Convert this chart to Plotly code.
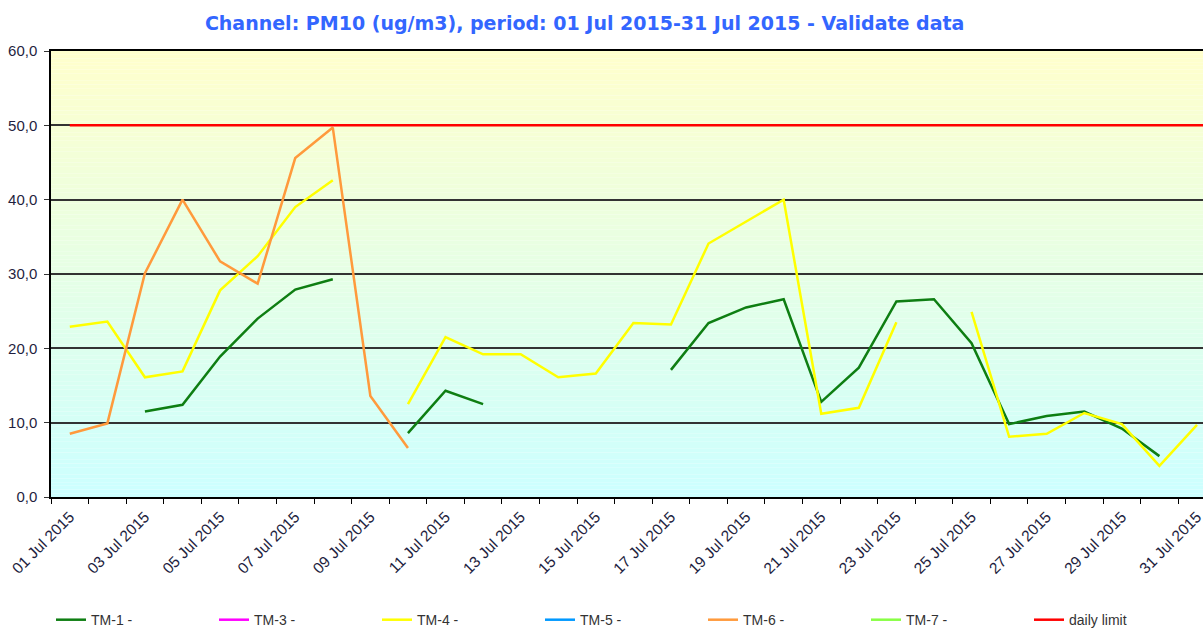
import plotly.graph_objects as go

# ---- data ----
days = list(range(1, 32))
x_labels_days = list(range(1, 32, 2))
x_labels = ["%02d Jul 2015" % d for d in x_labels_days]

tm1 = [None, None, 11.5, 12.4, 18.9, 24.0, 27.9, 29.3, None, 8.6,
       14.3, 12.5, None, None, None, None, 17.1, 23.4, 25.5, 26.6,
       12.8, 17.4, 26.3, 26.6, 20.7, 9.8, 10.9, 11.5, 9.2, 5.5, None]
tm3 = [None] * 31
tm4 = [22.9, 23.6, 16.1, 16.9, 27.8, 32.4, 39.0, 42.6, None, 12.5,
       21.5, 19.2, 19.2, 16.1, 16.6, 23.4, 23.2, 34.1, 37.0, 40.0,
       11.2, 12.0, 23.5, None, 24.9, 8.1, 8.5, 11.3, 9.8, 4.2, 9.7]
tm5 = [None] * 31
tm6 = [8.5, 9.9, 30.1, 40.0, 31.7, 28.7, 45.6, 49.7, 13.6, 6.6] + [None] * 21
tm7 = [None] * 31
daily_limit = [50.0] * 31

y_ticks = [0, 10, 20, 30, 40, 50, 60]
y_tick_labels = ["0,0", "10,0", "20,0", "30,0", "40,0", "50,0", "60,0"]

series = [
    ("TM-1 -", tm1, "#0E7E12"),
    ("TM-3 -", tm3, "#FF00FF"),
    ("TM-4 -", tm4, "#FFFF00"),
    ("TM-5 -", tm5, "#0099FF"),
    ("TM-6 -", tm6, "#FF9A3C"),
    ("TM-7 -", tm7, "#88FF44"),
]

x_range = [0.5, 31.16]
FONT = "DejaVu Sans, Verdana, sans-serif"
SANS = "Liberation Sans, Arial, sans-serif"

fig = go.Figure()

# gradient background bands (yellow top -> cyan bottom)
n_bands = 120
top = (255, 255, 204)
bot = (204, 255, 255)
for i in range(n_bands):
    t = i / (n_bands - 1)
    c = tuple(round(top[k] + (bot[k] - top[k]) * t) for k in range(3))
    fig.add_shape(type="rect", xref="x domain", yref="y domain",
                  x0=0, x1=1, y0=1 - (i + 1) / n_bands, y1=1 - i / n_bands,
                  fillcolor="rgb(%d,%d,%d)" % c, line_width=0, layer="below")

for name, vals, col in series:
    fig.add_trace(go.Scatter(x=days, y=vals, mode="lines", name=name,
                             line=dict(color=col, width=2.5),
                             connectgaps=False))

fig.add_trace(go.Scatter(x=days + [x_range[1]], y=daily_limit + [daily_limit[-1]],
                         mode="lines", name="daily limit",
                         line=dict(color="#FF0000", width=2.5)))

fig.update_layout(
    width=1203, height=629,
    margin=dict(l=51, r=0, t=51, b=132, autoexpand=False),
    paper_bgcolor="white",
    plot_bgcolor="rgba(0,0,0,0)",
    font=dict(family=SANS, color="#1F1F3F"),
    title=dict(text="<b>Channel: PM10 (ug/m3), period: 01 Jul 2015-31 Jul 2015 - Validate data</b>",
               x=0.486, xanchor="center", y=0.963, yanchor="middle",
               font=dict(size=19, color="#3366FF", family=FONT)),
    showlegend=True,
    legend=dict(orientation="h", x=0.0, xanchor="left", y=-0.276, yanchor="middle",
                entrywidth=118, entrywidthmode="pixels",
                font=dict(size=14, color="#333333", family=SANS),
                bgcolor="rgba(0,0,0,0)", traceorder="normal"),
)

fig.update_xaxes(
    range=x_range, tickmode="array", tickvals=x_labels_days, ticktext=x_labels,
    tickangle=-45, ticks="", tickfont=dict(size=15.5, color="#1F1F3F", family=SANS),
    ticklabeloverflow="allow", ticklabelstandoff=3,
    automargin=False,
    showgrid=False, zeroline=False,
    showline=True, linecolor="black", linewidth=1.5, mirror=True,
    minor=dict(tick0=0.5, dtick=1, ticks="outside", ticklen=5,
               tickcolor="black", tickwidth=1, showgrid=False),
)
fig.update_yaxes(
    range=[0, 60], tickmode="array", tickvals=y_ticks, ticktext=y_tick_labels,
    ticks="outside", ticklen=5, tickcolor="#333333",
    tickfont=dict(size=15, color="#1F1F3F", family=SANS),
    ticklabelstandoff=4,
    automargin=False,
    showgrid=True, gridcolor="#333333", gridwidth=1.5,
    zeroline=False, showline=True, linecolor="black", linewidth=1.5,
)

fig.write_html("out.html", config={"displayModeBar": False},
               post_script="document.body.style.margin='0';document.body.style.overflow='hidden';")
